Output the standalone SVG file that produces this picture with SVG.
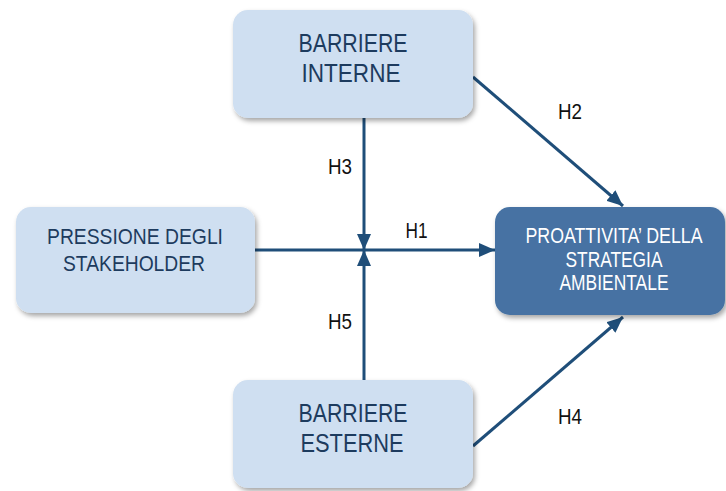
<svg xmlns="http://www.w3.org/2000/svg" width="726" height="491" viewBox="0 0 726 491">
  <style>
    .box { fill: #cfdff1; }
    .main { fill: #4672a3; }
    .lbl { font-family: "Liberation Sans", Arial, sans-serif; text-anchor: middle; }
    .dark { fill: #1d3b5e; font-size: 26px; }
    .mid { fill: #1d3b5e; font-size: 22px; }
    .white { fill: #ffffff; font-size: 22px; }
    .hyp { fill: #111111; font-size: 22px; font-family: "Liberation Sans", Arial, sans-serif; text-anchor: middle; }
    .edge { stroke: #1f4e79; stroke-width: 3; fill: none; }
  </style>
  <defs>
    <filter id="shadow" x="-10%" y="-10%" width="125%" height="130%">
      <feDropShadow dx="2" dy="3" stdDeviation="2.5" flood-color="#000000" flood-opacity="0.35"/>
    </filter>
    <marker id="arrow" viewBox="0 0 16 14" refX="16" refY="7" markerWidth="16" markerHeight="14" markerUnits="userSpaceOnUse" orient="auto">
      <path d="M0,0 L16,7 L0,14 Z" fill="#1f4e79"/>
    </marker>
  </defs>

  <g id="connectors">
    <line class="edge" x1="364" y1="118" x2="364" y2="250" marker-end="url(#arrow)"/>
    <line class="edge" x1="364" y1="380" x2="364" y2="250" marker-end="url(#arrow)"/>
    <line class="edge" x1="255" y1="250" x2="495" y2="250" marker-end="url(#arrow)"/>
    <line class="edge" x1="473" y1="77" x2="623" y2="206" marker-end="url(#arrow)"/>
    <line class="edge" x1="473" y1="446" x2="623" y2="317" marker-end="url(#arrow)"/>
    <text class="hyp" x="416.5" y="238" textLength="22" lengthAdjust="spacingAndGlyphs">H1</text>
    <text class="hyp" x="570" y="119" textLength="24" lengthAdjust="spacingAndGlyphs">H2</text>
    <text class="hyp" x="340" y="174" textLength="24" lengthAdjust="spacingAndGlyphs">H3</text>
    <text class="hyp" x="570" y="424" textLength="24" lengthAdjust="spacingAndGlyphs">H4</text>
    <text class="hyp" x="340" y="329" textLength="24" lengthAdjust="spacingAndGlyphs">H5</text>
  </g>

  <g id="barriere-interne">
    <rect class="box" x="233" y="10" width="240" height="108" rx="15" filter="url(#shadow)"/>
    <text class="lbl dark" x="353" y="52" textLength="109" lengthAdjust="spacingAndGlyphs">BARRIERE</text>
    <text class="lbl dark" x="351" y="82" textLength="99" lengthAdjust="spacingAndGlyphs">INTERNE</text>
  </g>

  <g id="pressione-stakeholder">
    <rect class="box" x="16" y="207" width="239" height="106" rx="15" filter="url(#shadow)"/>
    <text class="lbl mid" x="135" y="244" textLength="176" lengthAdjust="spacingAndGlyphs">PRESSIONE DEGLI</text>
    <text class="lbl mid" x="134" y="271" textLength="142" lengthAdjust="spacingAndGlyphs">STAKEHOLDER</text>
  </g>

  <g id="proattivita">
    <rect class="main" x="495" y="207" width="230" height="108" rx="15" filter="url(#shadow)"/>
    <text class="lbl white" x="614" y="243" textLength="177" lengthAdjust="spacingAndGlyphs">PROATTIVITA’ DELLA</text>
    <text class="lbl white" x="614" y="267" textLength="97" lengthAdjust="spacingAndGlyphs">STRATEGIA</text>
    <text class="lbl white" x="614" y="290" textLength="109" lengthAdjust="spacingAndGlyphs">AMBIENTALE</text>
  </g>

  <g id="barriere-esterne">
    <rect class="box" x="233" y="380" width="240" height="108" rx="15" filter="url(#shadow)"/>
    <text class="lbl dark" x="353" y="422" textLength="109" lengthAdjust="spacingAndGlyphs">BARRIERE</text>
    <text class="lbl dark" x="352" y="452" textLength="103" lengthAdjust="spacingAndGlyphs">ESTERNE</text>
  </g>
</svg>
